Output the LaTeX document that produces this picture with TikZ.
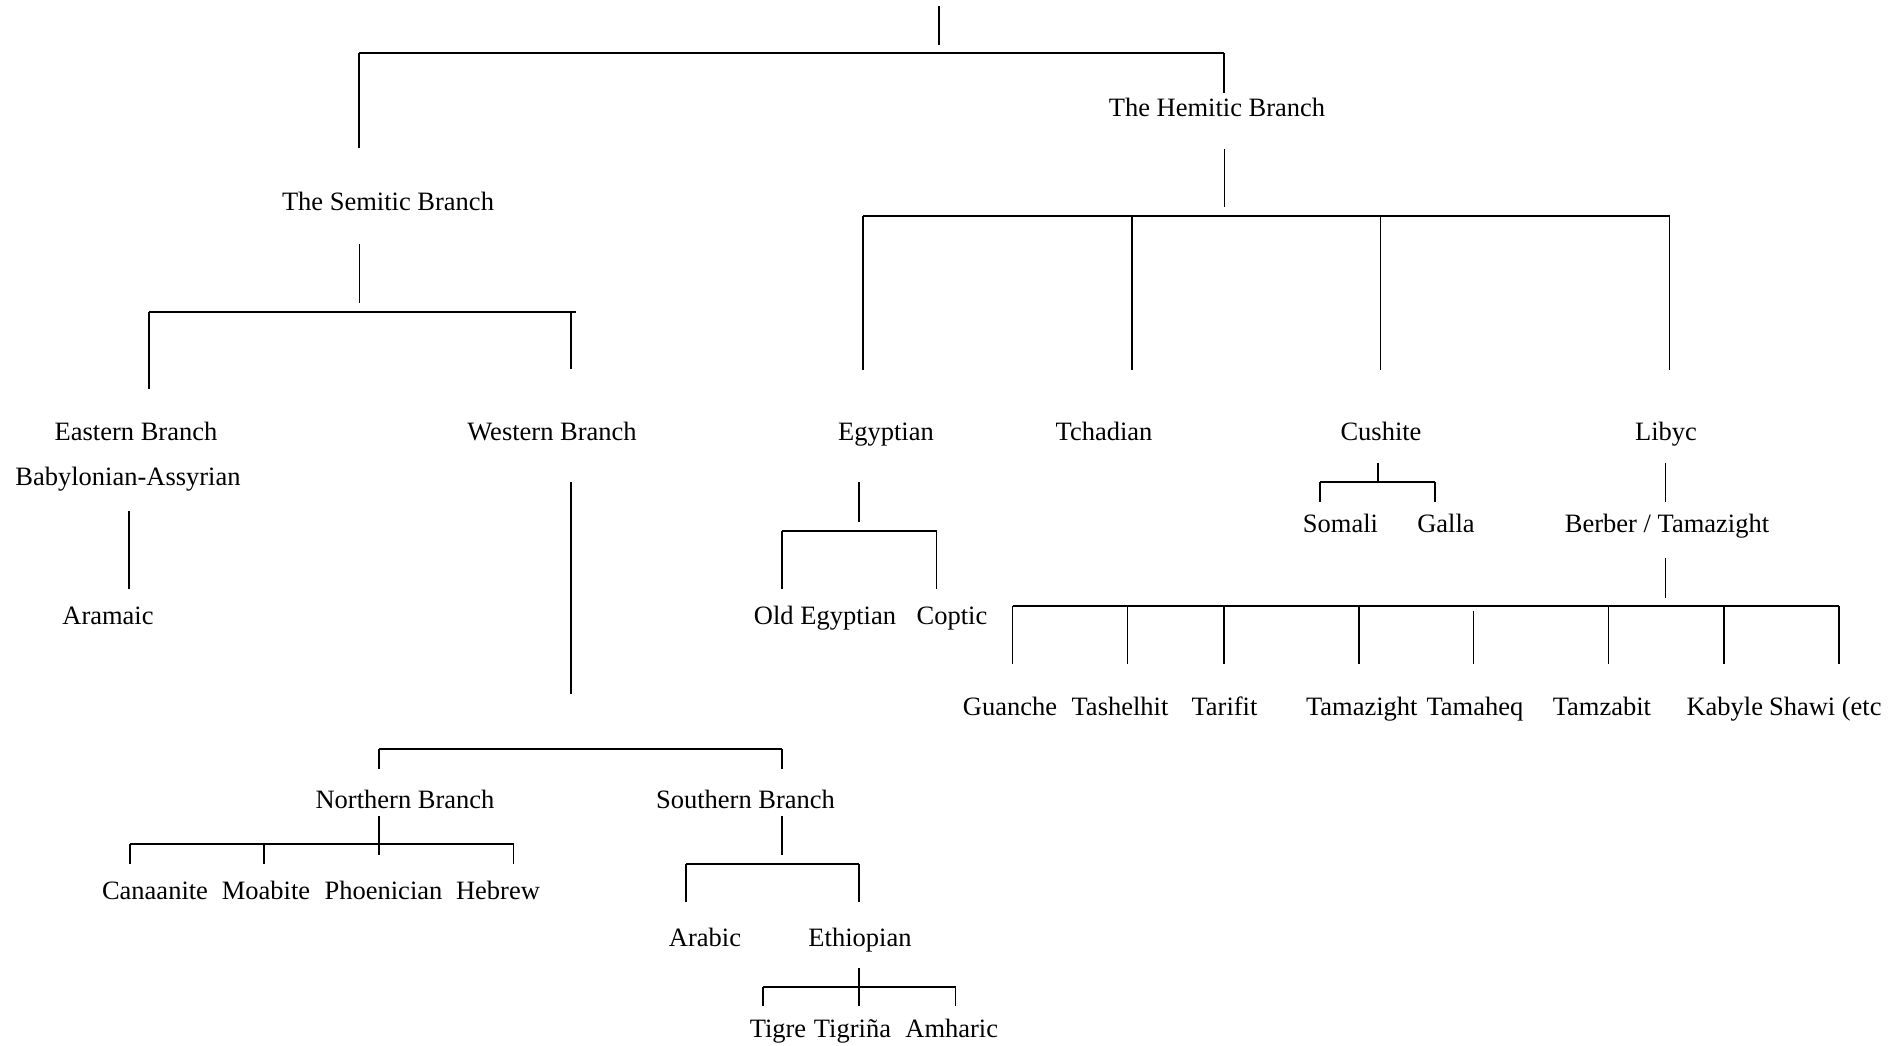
\documentclass[tikz,border=0pt]{standalone}
\usepackage{fontspec}
\setmainfont{Liberation Serif}
\begin{document}
\begin{tikzpicture}[x=1pt,y=-1pt,
  lbl/.style={inner sep=0pt, anchor=base, font=\fontsize{26.5}{30}\selectfont},
  hl/.style={line width=2.3pt},
  vl/.style={line width=1.6pt}]
\useasboundingbox (0,0) rectangle (1904,1046);
% ---------- labels ----------
\node[lbl] (sem) at (388,210) {The Semitic Branch};
\node[lbl] (ham) at (1217,117) {The Hemitic Branch};
\node[lbl] (east) at (136,440) {Eastern Branch};
\node[lbl] (baby) at (128,485) {Babylonian-Assyrian};
\node[lbl] (west) at (552,440) {Western Branch};
\node[lbl] (egy) at (886,440) {Egyptian};
\node[lbl] (tch) at (1104,440) {Tchadian};
\node[lbl] (cus) at (1381,440) {Cushite};
\node[lbl] (lib) at (1666,440) {Libyc};
\node[lbl] (ara) at (108,624) {Aramaic};
\node[lbl] (oeg) at (825,624) {Old Egyptian};
\node[lbl] (cop) at (952,624) {Coptic};
\node[lbl] (som) at (1340.5,532) {Somali};
\node[lbl] (gal) at (1446,532) {Galla};
\node[lbl] (ber) at (1667,532) {Berber / Tamazight};
\node[lbl] (gua) at (1010,715) {Guanche};
\node[lbl] (tas) at (1120,715) {Tashelhit};
\node[lbl] (tar) at (1224.5,715) {Tarifit};
\node[lbl] (tmz) at (1361.8,715) {Tamazight};
\node[lbl] (tmh) at (1474.9,715) {Tamaheq};
\node[lbl] (tzb) at (1601.9,715) {Tamzabit};
\node[lbl] (kab) at (1724.8,715) {Kabyle};
\node[lbl] (sha) at (1825.3,715) {Shawi (etc};
\node[lbl] (nor) at (405,808) {Northern Branch};
\node[lbl] (sou) at (745.5,808) {Southern Branch};
\node[lbl] (can) at (155,899) {Canaanite};
\node[lbl] (moa) at (266,899) {Moabite};
\node[lbl] (pho) at (383.5,899) {Phoenician};
\node[lbl] (heb) at (498,899) {Hebrew};
\node[lbl] (arb) at (705,946) {Arabic};
\node[lbl] (eth) at (860,946) {Ethiopian};
\node[lbl] (tig) at (778,1037) {Tigre};
\node[lbl] (tga) at (852.5,1037) {Tigriña};
\node[lbl] (amh) at (951.75,1037) {Amharic};
% ---------- top ----------
\draw[vl] (939,6)--(939,45);
\draw[hl] (359,53)--(1224,53);
\draw[vl] (359,53)--(359,148) (1224,53)--(1224,93);
% ---------- Semitic ----------
\draw[vl] (359.5,244)--(359.5,303);
\draw[hl] (149,312)--(576,312);
\draw[vl] (149,312)--(149,389) (571,312)--(571,369);
\draw[vl] (129,511)--(129,589);
\draw[vl] (571,482)--(571,694);
\draw[hl] (379,749)--(782,749);
\draw[vl] (379,749)--(379,769) (782,749)--(782,769);
\draw[vl] (379,816)--(379,855);
\draw[hl] (130,844)--(513.5,844);
\draw[vl] (130,844)--(130,864) (264,844)--(264,864) (513.5,844)--(513.5,864);
\draw[vl] (782,816)--(782,855);
\draw[hl] (686,864)--(859,864);
\draw[vl] (686,864)--(686,902) (859,864)--(859,902);
\draw[vl] (859,968)--(859,1006);
\draw[hl] (763,987)--(955.5,987);
\draw[vl] (763,987)--(763,1006) (955.5,987)--(955.5,1006);
% ---------- Egyptian ----------
\draw[vl] (859,482)--(859,522);
\draw[hl] (782,531)--(936.5,531);
\draw[vl] (782,531)--(782,589) (936.5,531)--(936.5,589);
% ---------- Hemitic ----------
\draw[vl] (1224.5,149)--(1224.5,207);
\draw[hl] (863,216)--(1669.6,216);
\draw[vl] (863,216)--(863,370) (1132,216)--(1132,370) (1380.6,216)--(1380.6,370) (1669.6,216)--(1669.6,370);
% ---------- Cushite ----------
\draw[vl] (1378,463)--(1378,482);
\draw[hl] (1320,482)--(1435,482);
\draw[vl] (1320,482)--(1320,502) (1435,482)--(1435,502);
% ---------- Libyc ----------
\draw[vl] (1665.4,463)--(1665.4,502);
\draw[vl] (1665.4,558)--(1665.4,598);
\draw[hl] (1012.5,605.7)--(1838.8,605.7);
\foreach \xx in {1012.5,1127.5,1224,1358.7,1608.3,1723.8,1838.8}
  \draw[vl] (\xx,605.7)--(\xx,664);
\draw[vl] (1473.6,610.7)--(1473.6,664);
\end{tikzpicture}
\end{document}
